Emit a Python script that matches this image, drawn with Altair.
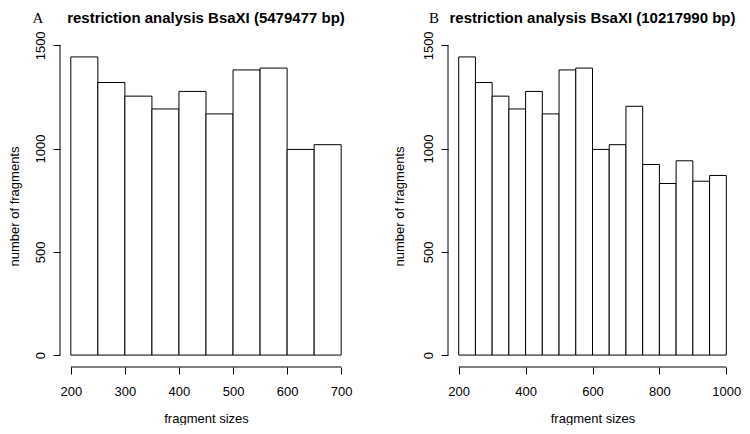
import altair as alt
import pandas as pd

# ---- data ----
breaks_a = [200, 250, 300, 350, 400, 450, 500, 550, 600, 650, 700]
counts_a = [1444, 1320, 1254, 1192, 1277, 1168, 1381, 1390, 996, 1019]

breaks_b = [200, 250, 300, 350, 400, 450, 500, 550, 600, 650, 700, 750, 800,
            850, 900, 950, 1000]
counts_b = [1444, 1320, 1254, 1192, 1277, 1168, 1381, 1390, 996, 1019,
            1205, 923, 831, 941, 842, 870]

xticks_a = [200, 300, 400, 500, 600, 700]
xticks_b = [200, 400, 600, 800, 1000]
yticks = [0, 500, 1000, 1500]

title_a = "restriction analysis BsaXI (5479477 bp)"
title_b = "restriction analysis BsaXI (10217990 bp)"
letter_a = "A"
letter_b = "B"
xlabel = "fragment sizes"
ylabel = "number of fragments"

# ---- styling ----
WA, WB, H = 292, 289, 322
SANS = "Liberation Sans"
SERIF = "Liberation Serif"


def panel(breaks, counts, xticks, letter, title, W, letter_x, ytitle_x):
    df = pd.DataFrame({"start": breaks[:-1], "end": breaks[1:],
                       "count": counts, "base": [0] * len(counts)})
    lo, hi = breaks[0], breaks[-1]
    ext = 0.04 * (hi - lo)
    ymax = max(counts)
    yext = 0.04 * ymax
    xscale = alt.Scale(domain=[lo - ext, hi + ext], nice=False, zero=False)
    yscale = alt.Scale(domain=[-yext, ymax + yext], nice=False, zero=False)

    xaxis = alt.Axis(values=xticks, domain=False, grid=False, ticks=True,
                     tickSize=7, tickColor="black", tickWidth=1,
                     labelFont=SANS, labelFontSize=13, labelColor="black",
                     labelPadding=11, labelAngle=0, labelFlush=False,
                     labelOverlap=False, format="d",
                     title=xlabel, titleFont=SANS, titleFontSize=13,
                     titleFontWeight="normal", titleColor="black",
                     titleX=W / 2, titleY=55, titleAlign="center",
                     titleBaseline="alphabetic")
    yaxis = alt.Axis(values=yticks, domain=False, grid=False, ticks=True,
                     tickSize=7, tickColor="black", tickWidth=1,
                     labelFont=SANS, labelFontSize=13, labelColor="black",
                     labelAngle=270, labelAlign="center",
                     labelBaseline="alphabetic", labelPadding=9,
                     labelFlush=False, labelOverlap=False, format="d",
                     title=ylabel, titleFont=SANS, titleFontSize=13,
                     titleFontWeight="normal", titleColor="black",
                     titleAngle=270, titleX=ytitle_x, titleY=H / 2,
                     titleAlign="center", titleBaseline="alphabetic")

    bars = alt.Chart(df).mark_rect(fill="white", stroke="black",
                                   strokeWidth=1).encode(
        x=alt.X("start:Q", scale=xscale, axis=xaxis),
        x2="end:Q",
        y=alt.Y("count:Q", scale=yscale, axis=yaxis),
        y2="base:Q",
    )

    xline = alt.Chart(pd.DataFrame({"a": [min(xticks)], "b": [max(xticks)]})
                      ).mark_rule(color="black", strokeWidth=1).encode(
        x=alt.X("a:Q", scale=xscale, axis=xaxis), x2="b:Q", y=alt.value(H))
    yline = alt.Chart(pd.DataFrame({"a": [min(yticks)], "b": [max(yticks)]})
                      ).mark_rule(color="black", strokeWidth=1).encode(
        y=alt.Y("a:Q", scale=yscale, axis=yaxis), y2="b:Q", x=alt.value(0))

    ttl = alt.Chart(pd.DataFrame({"t": [title]})).mark_text(
        font=SANS, fontSize=15, fontWeight="bold", align="center",
        baseline="alphabetic", color="black").encode(
        text="t:N", x=alt.value(W / 2), y=alt.value(-22))
    let = alt.Chart(pd.DataFrame({"t": [letter]})).mark_text(
        font=SERIF, fontSize=15, align="center",
        baseline="alphabetic", color="black").encode(
        text="t:N", x=alt.value(letter_x), y=alt.value(-22))

    return alt.layer(bars, xline, yline, ttl, let).properties(width=W, height=H)


pa = panel(breaks_a, counts_a, xticks_a, letter_a, title_a, WA, -22, -41.5)
pb = panel(breaks_b, counts_b, xticks_b, letter_b, title_b, WB, -14, -44.5)

chart = alt.hconcat(pa, pb, spacing=96, bounds="flush").properties(
    padding={"top": 3, "left": 0, "right": 0, "bottom": 0},
    background="white"
).configure_view(stroke=None)

chart.save("out.html", embed_options={"renderer": "svg", "actions": False})
